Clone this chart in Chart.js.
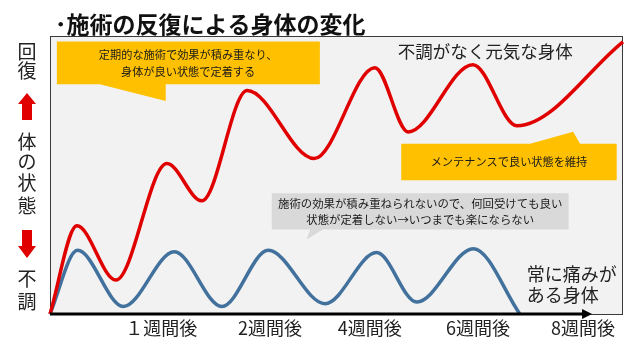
<!DOCTYPE html>
<html lang="ja">
<head>
<meta charset="utf-8">
<script src="https://cdn.jsdelivr.net/npm/chart.js@4"></script>
<style>
  html, body { margin: 0; padding: 0; background: #fff; }
  #wrap { width: 640px; height: 360px; }
</style>
</head>
<body>
<div id="wrap"><canvas id="myChart" width="640" height="360"></canvas></div>
<script>
const chartTitle = '･施術の反復による身体の変化';
const weekLabels = ['１週間後', '2週間後', '4週間後', '6週間後', '8週間後'];
const weekTickPos = [19.4, 38.4, 55.8, 74.7, 93.0];

// 定期的な施術 (赤)
const goodX = [0, 4.7, 11.5, 20.4, 26.5, 34.4, 46.1, 56.7, 62.5, 73.8, 81.5, 100];
const goodY = [0, 31.7, 12.2, 54.1, 40.7, 80.4, 55.9, 88.6, 65.5, 89.7, 67.7, 97.9];

// 効果が積み重ならない (青)
const badX = [0, 4.8, 12.8, 21.7, 30.0, 38.1, 48.0, 57.0, 64.0, 73.9, 82.0];
const badY = [0, 22.9, 2.7, 22.4, 2.7, 22.9, 3.7, 22.1, 4.3, 23.5, 0];

const topLabel = ['回', '復'];
const midLabel = ['体', 'の', '状', '態'];
const bottomLabel = ['不', '調'];

const noteGood = ['定期的な施術で効果が積み重なり、', '身体が良い状態で定着する'];
const noteKeep = ['メンテナンスで良い状態を維持'];
const noteBad = ['施術の効果が積み重ねられないので、何回受けても良い', '状態が定着しない→いつまでも楽にならない'];
const labelGood = '不調がなく元気な身体';
const labelBad = ['常に痛みが', 'ある身体'];

const FONT = "'Noto Sans CJK JP', 'Noto Sans', sans-serif";

function poly(ctx, chart, pts, fill) {
  const xs = chart.scales.x, ys = chart.scales.y;
  ctx.beginPath();
  pts.forEach((p, i) => {
    const px = xs.getPixelForValue(p[0]), py = ys.getPixelForValue(p[1]);
    if (i === 0) ctx.moveTo(px, py); else ctx.lineTo(px, py);
  });
  ctx.closePath();
  ctx.fillStyle = fill;
  ctx.fill();
}

function textAt(ctx, chart, str, x, y, size, align) {
  ctx.font = size + 'px ' + FONT;
  ctx.textAlign = align || 'center';
  ctx.textBaseline = 'middle';
  ctx.fillText(str, chart.scales.x.getPixelForValue(x), chart.scales.y.getPixelForValue(y));
}

const decor = {
  id: 'decor',
  beforeDraw(chart) {
    const {ctx, chartArea: a} = chart;
    ctx.save();
    ctx.fillStyle = '#f2f2f2';
    ctx.fillRect(a.left, a.top, a.right - a.left, a.bottom - a.top);
    ctx.strokeStyle = '#3a3a3a';
    ctx.lineWidth = 1;
    ctx.strokeRect(a.left + 0.5, a.top + 0.5, a.right - a.left - 1, a.bottom - a.top);
    ctx.restore();
  },
  beforeDatasetsDraw(chart) {
    const ctx = chart.ctx;
    ctx.save();
    // 吹き出し
    poly(ctx, chart, [[1.2, 98], [47.1, 98], [47.1, 82.6], [20.2, 82.6], [20.2, 76.6], [8.7, 82.6], [1.2, 82.6]], '#ffc000');
    poly(ctx, chart, [[61.3, 61.2], [83.8, 61.2], [91.3, 65.6], [92.5, 61.2], [98.9, 61.2], [98.9, 48.1], [61.3, 48.1]], '#ffc000');
    poly(ctx, chart, [[38.7, 43.4], [90.5, 43.4], [90.5, 30.4], [47.6, 30.4], [44.8, 26.8], [45.4, 30.4], [38.7, 30.4]], '#d9d9d9');
    ctx.fillStyle = '#1a1a1a';
    textAt(ctx, chart, noteGood[0], 24.1, 93.2, 11.2);
    textAt(ctx, chart, noteGood[1], 24.1, 87.3, 11.2);
    textAt(ctx, chart, noteKeep[0], 80.1, 54.8, 11.2);
    textAt(ctx, chart, noteBad[0], 64.6, 39.6, 11.4);
    textAt(ctx, chart, noteBad[1], 64.6, 33.9, 11.4);
    ctx.fillStyle = '#222';
    textAt(ctx, chart, labelGood, 60.7, 94.4, 17.5, 'left');
    textAt(ctx, chart, labelBad[0], 83.2, 14.2, 18, 'left');
    textAt(ctx, chart, labelBad[1], 83.2, 6.8, 18, 'left');
    ctx.restore();
  },
  afterDatasetsDraw(chart) {
    const {ctx, chartArea: a} = chart;
    const y0 = a.bottom;
    const tip = chart.scales.x.getPixelForValue(94.6);
    ctx.save();
    ctx.strokeStyle = '#000';
    ctx.lineWidth = 3;
    ctx.beginPath();
    ctx.moveTo(a.left, y0);
    ctx.lineTo(tip - 8, y0);
    ctx.stroke();
    ctx.fillStyle = '#000';
    ctx.beginPath();
    ctx.moveTo(tip, y0);
    ctx.lineTo(tip - 10, y0 - 5);
    ctx.lineTo(tip - 10, y0 + 5);
    ctx.closePath();
    ctx.fill();
    ctx.restore();
  },
  afterDraw(chart) {
    const ctx = chart.ctx;
    ctx.save();
    ctx.fillStyle = '#111';
    ctx.font = 'bold 23px ' + FONT;
    ctx.textAlign = 'left';
    ctx.textBaseline = 'middle';
    ctx.fillText(chartTitle, 55, 24);

    ctx.font = '19px ' + FONT;
    ctx.textAlign = 'center';
    ctx.fillStyle = '#222';
    [52, 71].forEach((y, i) => ctx.fillText(topLabel[i], 27, y));
    [142, 162, 183, 206].forEach((y, i) => ctx.fillText(midLabel[i], 27, y));
    [279, 302].forEach((y, i) => ctx.fillText(bottomLabel[i], 27, y));

    // 赤い矢印
    ctx.fillStyle = '#e00000';
    ctx.beginPath();
    ctx.moveTo(27, 93); ctx.lineTo(36, 104); ctx.lineTo(32, 104); ctx.lineTo(32, 120);
    ctx.lineTo(22, 120); ctx.lineTo(22, 104); ctx.lineTo(18, 104); ctx.closePath();
    ctx.fill();
    ctx.beginPath();
    ctx.moveTo(27, 258); ctx.lineTo(36, 246); ctx.lineTo(32, 246); ctx.lineTo(32, 230);
    ctx.lineTo(22, 230); ctx.lineTo(22, 246); ctx.lineTo(18, 246); ctx.closePath();
    ctx.fill();
    ctx.restore();
  }
};

const ctx = document.getElementById('myChart').getContext('2d');

new Chart(ctx, {
  type: 'line',
  data: {
    datasets: [{
      label: 'good',
      data: goodX.map((x, i) => ({x: x, y: goodY[i]})),
      borderColor: '#e00000',
      borderWidth: 3.5,
      pointRadius: 0,
      cubicInterpolationMode: 'monotone',
      clip: false
    }, {
      label: 'bad',
      data: badX.map((x, i) => ({x: x, y: badY[i]})),
      borderColor: '#41719c',
      borderWidth: 3.5,
      pointRadius: 0,
      cubicInterpolationMode: 'monotone',
      clip: false
    }]
  },
  options: {
    responsive: false,
    animation: false,
    layout: { padding: { left: 50, right: 17, top: 36, bottom: 18.4 } },
    plugins: { legend: { display: false }, tooltip: { enabled: false } },
    scales: {
      x: {
        type: 'linear',
        min: 0,
        max: 100,
        grid: { display: false, drawTicks: false },
        border: { display: false },
        afterBuildTicks: (scale) => { scale.ticks = weekTickPos.map(v => ({ value: v })); },
        ticks: {
          autoSkip: false,
          maxRotation: 0,
          minRotation: 0,
          padding: 3,
          color: '#222',
          font: { size: 18, family: FONT },
          callback: (value, index) => weekLabels[index]
        }
      },
      y: { display: false, min: 0, max: 100 }
    }
  },
  plugins: [decor]
});
</script>
</body>
</html>
